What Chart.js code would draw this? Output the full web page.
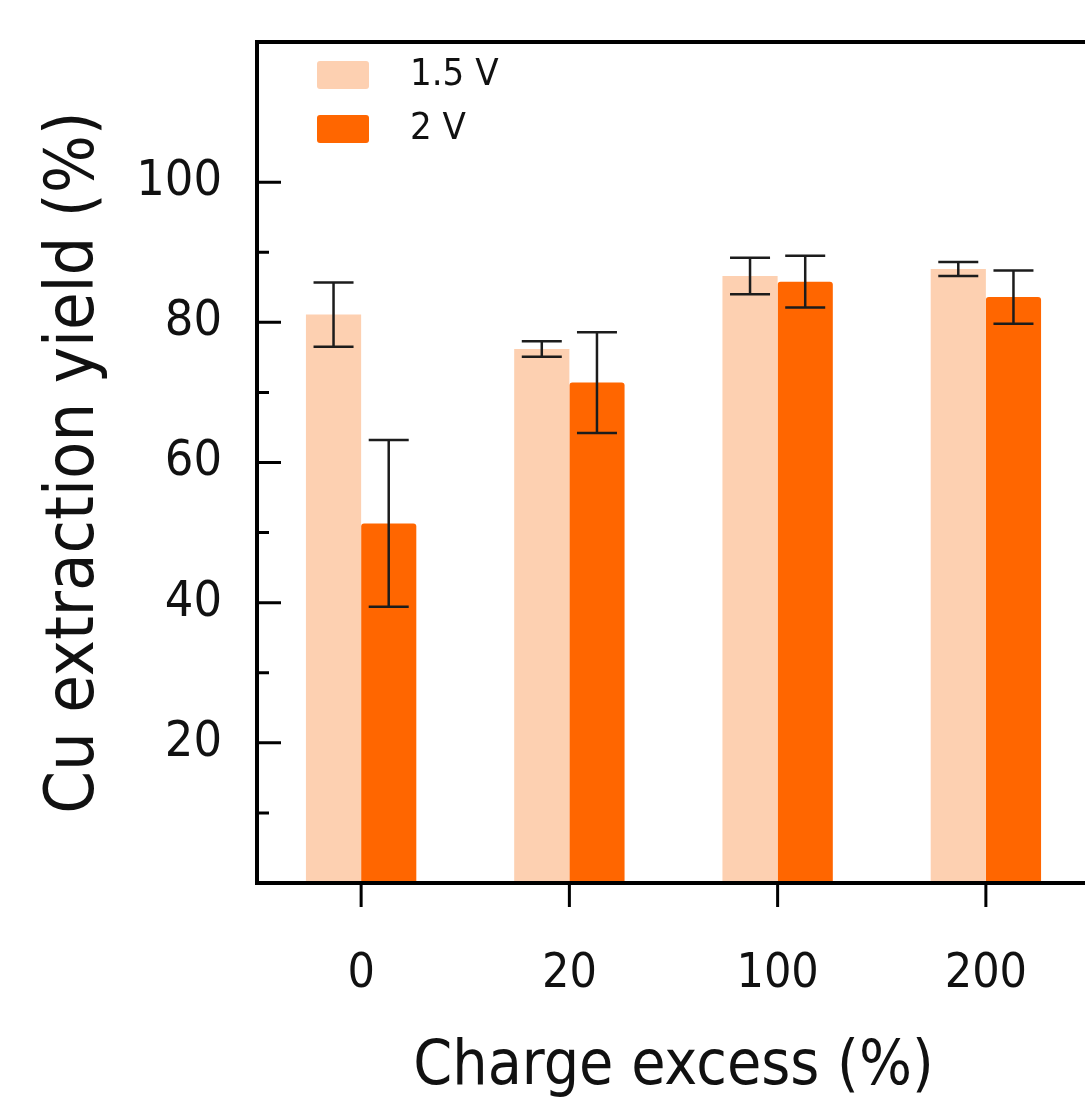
<!DOCTYPE html>
<html>
<head>
<meta charset="utf-8">
<script src="https://cdn.jsdelivr.net/npm/chart.js@4.4.0/dist/chart.umd.min.js"></script>
<style>
    html, body { margin: 0; padding: 0; background: #fff; overflow: hidden; }
    #wrap { width: 1095px; height: 1099px; }
</style>
</head>
<body>
<div id="wrap"><canvas id="yieldChart" width="1095" height="1099"></canvas></div>
<script>
// Charge excess categories and Cu extraction yields
const categories = ['0', '20', '100', '200'];
const yield15V = [81.1, 76.2, 86.6, 87.6];
const err15V = [4.6, 1.1, 2.6, 1.0];
const yield2V = [51.3, 71.4, 85.8, 83.6];
const err2V = [11.9, 7.2, 3.7, 3.8];
const majorTicks = [20, 40, 60, 80, 100];
const minorTicks = [10, 30, 50, 70, 90];

const FONT = '"DejaVu Sans Condensed", "DejaVu Sans", sans-serif';
const lightOrange = '#FDD0B1';
const darkOrange = '#FF6600';

// error bars on top of each bar
const errorBarPlugin = {
    id: 'errorBars',
    afterDatasetsDraw(chart) {
        const ctx = chart.ctx;
        const yScale = chart.scales.y;
        ctx.save();
        ctx.strokeStyle = '#1c1c1c';
        ctx.lineWidth = 2.5;
        chart.data.datasets.forEach((ds, i) => {
            const meta = chart.getDatasetMeta(i);
            meta.data.forEach((bar, j) => {
                const v = ds.data[j];
                const e = ds.errors[j];
                const yTop = yScale.getPixelForValue(v + e);
                const yBot = yScale.getPixelForValue(v - e);
                const x = bar.x;
                ctx.beginPath();
                ctx.moveTo(x, yTop); ctx.lineTo(x, yBot);
                ctx.moveTo(x - 20, yTop); ctx.lineTo(x + 20, yTop);
                ctx.moveTo(x - 20, yBot); ctx.lineTo(x + 20, yBot);
                ctx.stroke();
            });
        });
        ctx.restore();
    }
};

// frame, inward y ticks, outward x ticks, legend inside plot
const framePlugin = {
    id: 'frame',
    afterDraw(chart) {
        const ctx = chart.ctx;
        const a = chart.chartArea;
        const yScale = chart.scales.y;
        const xScale = chart.scales.x;
        ctx.save();
        ctx.strokeStyle = '#000';
        ctx.lineWidth = 4;
        ctx.strokeRect(a.left, a.top, a.right - a.left, a.bottom - a.top);

        ctx.lineWidth = 3;
        ctx.beginPath();
        majorTicks.forEach(t => {
            const y = yScale.getPixelForValue(t);
            ctx.moveTo(a.left, y); ctx.lineTo(a.left + 24, y);
        });
        minorTicks.forEach(t => {
            const y = yScale.getPixelForValue(t);
            ctx.moveTo(a.left, y); ctx.lineTo(a.left + 12, y);
        });
        categories.forEach((c, i) => {
            const x = xScale.getPixelForValue(i);
            ctx.moveTo(x, a.bottom); ctx.lineTo(x, a.bottom + 24);
        });
        ctx.stroke();

        // legend
        ctx.font = '38px ' + FONT;
        ctx.textBaseline = 'middle';
        ctx.textAlign = 'left';
        const rows = [75, 129];
        chart.data.datasets.forEach((ds, i) => {
            const y = rows[i];
            ctx.fillStyle = ds.backgroundColor;
            ctx.beginPath();
            ctx.roundRect(317, y - 14, 52, 28, 3);
            ctx.fill();
            ctx.fillStyle = '#111';
            ctx.fillText(ds.label, 410, y);
        });
        ctx.restore();
    }
};

new Chart(document.getElementById('yieldChart'), {
    type: 'bar',
    data: {
        labels: categories,
        datasets: [
            {
                label: '1.5 V',
                data: yield15V,
                errors: err15V,
                backgroundColor: lightOrange,
                categoryPercentage: 0.53,
                barPercentage: 1.0
            },
            {
                label: '2 V',
                data: yield2V,
                errors: err2V,
                backgroundColor: darkOrange,
                borderRadius: { topLeft: 3, topRight: 3 },
                borderSkipped: 'bottom',
                categoryPercentage: 0.53,
                barPercentage: 1.0
            }
        ]
    },
    options: {
        responsive: false,
        animation: false,
        layout: { padding: { top: 42, right: 5, left: 0, bottom: 0 } },
        plugins: {
            legend: { display: false },
            tooltip: { enabled: false }
        },
        scales: {
            x: {
                grid: { display: false, drawTicks: false },
                border: { display: false },
                ticks: {
                    color: '#111',
                    padding: 63,
                    font: { family: FONT, size: 48 }
                },
                title: {
                    display: true,
                    text: 'Charge excess (%)',
                    color: '#111',
                    font: { family: FONT, size: 62, lineHeight: 1.0 },
                    padding: 0
                },
                afterFit(scale) {
                    scale.height = 216;
                    scale.paddingLeft = 0;
                    scale.paddingRight = 0;
                }
            },
            y: {
                min: 0,
                max: 120,
                grid: { display: false, drawTicks: false },
                border: { display: false },
                ticks: {
                    stepSize: 20,
                    color: '#111',
                    padding: 35,
                    font: { family: FONT, size: 50 },
                    callback: v => (v > 0 && v <= 100) ? v : ''
                },
                title: {
                    display: true,
                    text: 'Cu extraction yield (%)',
                    color: '#111',
                    font: { family: FONT, size: 68, lineHeight: 1.2 },
                    padding: { top: 35, bottom: 0 }
                },
                afterFit(scale) {
                    scale.width = 257;
                    scale.paddingTop = 0;
                    scale.paddingBottom = 0;
                }
            }
        }
    },
    plugins: [errorBarPlugin, framePlugin]
});
</script>
</body>
</html>
